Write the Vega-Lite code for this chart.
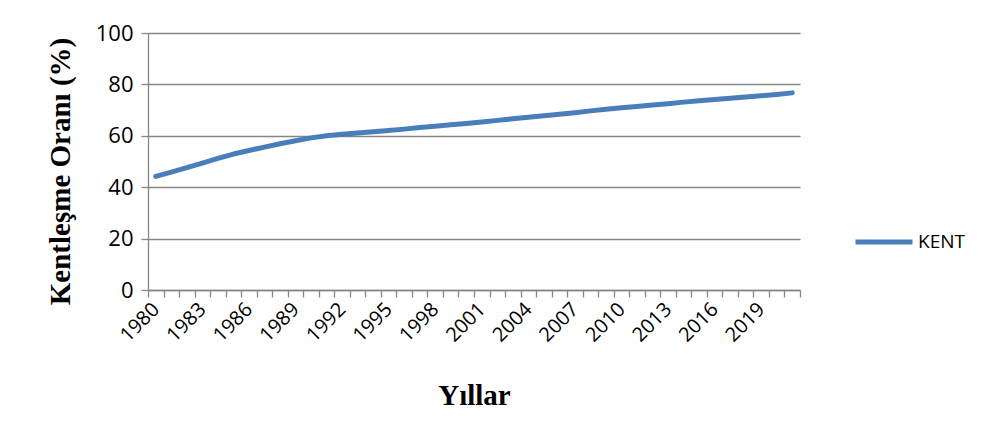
{
  "$schema": "https://vega.github.io/schema/vega-lite/v6.json",
  "width": 652,
  "height": 257,
  "autosize": {"type": "none"},
  "padding": {"left": 148, "top": 33, "right": 186, "bottom": 149},
  "background": "white",
  "config": {"view": {"stroke": null}},
  "data": {"values": [
    {"Yil": 1980, "Oran": 44.2, "Seri": "KENT"},
    {"Yil": 1981, "Oran": 45.9, "Seri": "KENT"},
    {"Yil": 1982, "Oran": 47.6, "Seri": "KENT"},
    {"Yil": 1983, "Oran": 49.4, "Seri": "KENT"},
    {"Yil": 1984, "Oran": 51.2, "Seri": "KENT"},
    {"Yil": 1985, "Oran": 52.9, "Seri": "KENT"},
    {"Yil": 1986, "Oran": 54.3, "Seri": "KENT"},
    {"Yil": 1987, "Oran": 55.6, "Seri": "KENT"},
    {"Yil": 1988, "Oran": 56.9, "Seri": "KENT"},
    {"Yil": 1989, "Oran": 58.1, "Seri": "KENT"},
    {"Yil": 1990, "Oran": 59.2, "Seri": "KENT"},
    {"Yil": 1991, "Oran": 60.0, "Seri": "KENT"},
    {"Yil": 1992, "Oran": 60.6, "Seri": "KENT"},
    {"Yil": 1993, "Oran": 61.1, "Seri": "KENT"},
    {"Yil": 1994, "Oran": 61.6, "Seri": "KENT"},
    {"Yil": 1995, "Oran": 62.1, "Seri": "KENT"},
    {"Yil": 1996, "Oran": 62.6, "Seri": "KENT"},
    {"Yil": 1997, "Oran": 63.2, "Seri": "KENT"},
    {"Yil": 1998, "Oran": 63.7, "Seri": "KENT"},
    {"Yil": 1999, "Oran": 64.3, "Seri": "KENT"},
    {"Yil": 2000, "Oran": 64.8, "Seri": "KENT"},
    {"Yil": 2001, "Oran": 65.4, "Seri": "KENT"},
    {"Yil": 2002, "Oran": 66.0, "Seri": "KENT"},
    {"Yil": 2003, "Oran": 66.6, "Seri": "KENT"},
    {"Yil": 2004, "Oran": 67.2, "Seri": "KENT"},
    {"Yil": 2005, "Oran": 67.8, "Seri": "KENT"},
    {"Yil": 2006, "Oran": 68.4, "Seri": "KENT"},
    {"Yil": 2007, "Oran": 69.0, "Seri": "KENT"},
    {"Yil": 2008, "Oran": 69.7, "Seri": "KENT"},
    {"Yil": 2009, "Oran": 70.3, "Seri": "KENT"},
    {"Yil": 2010, "Oran": 70.9, "Seri": "KENT"},
    {"Yil": 2011, "Oran": 71.4, "Seri": "KENT"},
    {"Yil": 2012, "Oran": 72.0, "Seri": "KENT"},
    {"Yil": 2013, "Oran": 72.5, "Seri": "KENT"},
    {"Yil": 2014, "Oran": 73.1, "Seri": "KENT"},
    {"Yil": 2015, "Oran": 73.6, "Seri": "KENT"},
    {"Yil": 2016, "Oran": 74.1, "Seri": "KENT"},
    {"Yil": 2017, "Oran": 74.6, "Seri": "KENT"},
    {"Yil": 2018, "Oran": 75.1, "Seri": "KENT"},
    {"Yil": 2019, "Oran": 75.6, "Seri": "KENT"},
    {"Yil": 2020, "Oran": 76.1, "Seri": "KENT"},
    {"Yil": 2021, "Oran": 76.7, "Seri": "KENT"}
  ]},
  "mark": {"type": "line", "strokeWidth": 5, "strokeCap": "round", "strokeJoin": "round"},
  "encoding": {
    "x": {
      "field": "Yil",
      "type": "ordinal",
      "bandPosition": 0.5,
      "scale": {"type": "band", "paddingInner": 0, "paddingOuter": 0},
      "axis": {
        "title": "Yıllar",
        "titleFont": "Liberation Serif",
        "titleFontSize": 29,
        "titleFontWeight": "bold",
        "titleColor": "black",
        "titleX": 326,
        "titleY": 105,
        "titleBaseline": "middle",
        "titleAlign": "center",
        "domainColor": "#868686",
        "domainWidth": 1.3,
        "tickColor": "#868686",
        "tickWidth": 1.3,
        "tickSize": 7,
        "tickBand": "extent",
        "labelAngle": -45,
        "labelAlign": "right",
        "labelBaseline": "middle",
        "labelPadding": 9,
        "labelFont": "Open Sans",
        "labelFontSize": 20,
        "labelColor": "black",
        "labelOverlap": false,
        "labelExpr": "(datum.value - 1980) % 3 === 0 ? datum.label : ''",
        "grid": false
      }
    },
    "y": {
      "field": "Oran",
      "type": "quantitative",
      "scale": {"domain": [0, 100], "nice": false, "zero": true},
      "axis": {
        "title": "Kentleşme Oranı (%)",
        "titleFont": "Liberation Serif",
        "titleFontSize": 29,
        "titleFontWeight": "bold",
        "titleColor": "black",
        "titleX": -88,
        "titleY": 138,
        "titleAngle": -90,
        "titleBaseline": "middle",
        "titleAlign": "center",
        "values": [0, 20, 40, 60, 80, 100],
        "domainColor": "#868686",
        "domainWidth": 1.3,
        "tickColor": "#868686",
        "tickWidth": 1.3,
        "tickSize": 7,
        "labelPadding": 8,
        "labelFont": "Open Sans",
        "labelFontSize": 22,
        "labelColor": "black",
        "grid": true,
        "gridColor": "#868686",
        "gridWidth": 1.3
      }
    },
    "color": {
      "field": "Seri",
      "type": "nominal",
      "scale": {"range": ["#4a7ebb"]},
      "legend": {
        "title": null,
        "orient": "none",
        "legendX": 705,
        "legendY": 178,
        "padding": 0,
        "symbolType": "stroke",
        "symbolSize": 3249,
        "symbolStrokeWidth": 5,
        "labelFont": "Open Sans",
        "labelFontSize": 19,
        "labelColor": "black",
        "labelOffset": 3
      }
    }
  }
}
